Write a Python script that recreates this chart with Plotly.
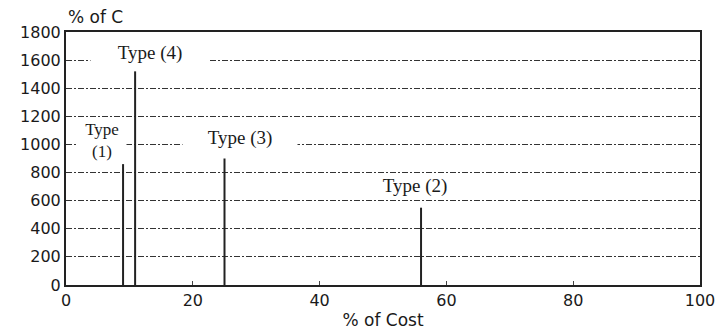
import plotly.graph_objects as go

# Data
types = ["Type (1)", "Type (4)", "Type (3)", "Type (2)"]
cost_pct = [9.0, 10.9, 25.0, 56.0]
c_pct = [860, 1520, 900, 550]
y_ticks = [0, 200, 400, 600, 800, 1000, 1200, 1400, 1600, 1800]
x_ticks = [0, 20, 40, 60, 80, 100]

xs, ys = [], []
for x, v in zip(cost_pct, c_pct):
    xs += [x, x, None]
    ys += [0, v, None]

L, R, T, B = 66, 17, 32, 45
W, H = 717, 330
pw, ph = W - L - R, H - T - B

fig = go.Figure()
fig.add_trace(go.Scatter(x=xs, y=ys, mode="lines",
                         line=dict(color="#222222", width=2),
                         showlegend=False, hoverinfo="skip"))

tick_font = dict(family="DejaVu Sans", size=16, color="#1a1a1a")
fig.update_layout(
    width=W, height=H,
    margin=dict(l=L, r=R, t=T, b=B),
    plot_bgcolor="white", paper_bgcolor="white",
    xaxis=dict(range=[0, 100], tickvals=x_ticks, showgrid=False, zeroline=False,
               showline=True, linecolor="#222222", linewidth=2, mirror=True,
               ticks="inside", ticklen=4, tickcolor="#444444",
               tickfont=tick_font, automargin=False,
               title=dict(text="% of Cost", font=dict(family="DejaVu Sans", size=17, color="#1a1a1a"),
                          standoff=6)),
    yaxis=dict(range=[0, 1800], tickvals=y_ticks, showgrid=True, gridcolor="#333333",
               griddash="6px,2px,2px,2px", gridwidth=1, zeroline=False,
               showline=True, linecolor="#222222", linewidth=2, mirror=True,
               ticks="", tickfont=tick_font, automargin=False),
)

serif = dict(family="Liberation Serif", size=19, color="#1a1a1a")
serif_small = dict(family="Liberation Serif", size=17, color="#1a1a1a")
ann = [
    dict(text="Type (4)", x=150, y=53, w=118, f=serif),
    dict(text="Type<br>(1)", x=102, y=140, w=48, f=serif_small),
    dict(text="Type (3)", x=240, y=138, w=114, f=serif),
    dict(text="Type (2)", x=415, y=186, w=114, f=serif),
]
for a in ann:
    fig.add_annotation(text=a["text"], x=(a["x"] - L) / pw, y=1 - (a["y"] - T) / ph,
                       xref="paper", yref="paper", xanchor="center", yanchor="middle",
                       showarrow=False, font=a["f"], bgcolor="white", width=a["w"],
                       align="center", borderpad=0)

fig.add_annotation(text="% of C", x=0, y=1, xref="paper", yref="paper",
                   xanchor="left", yanchor="bottom", yshift=3, showarrow=False,
                   font=dict(family="DejaVu Sans", size=17, color="#1a1a1a"))

fig.write_html("out.html", config={"displayModeBar": False},
               post_script="document.body.style.margin='0';document.body.style.overflow='hidden';")
